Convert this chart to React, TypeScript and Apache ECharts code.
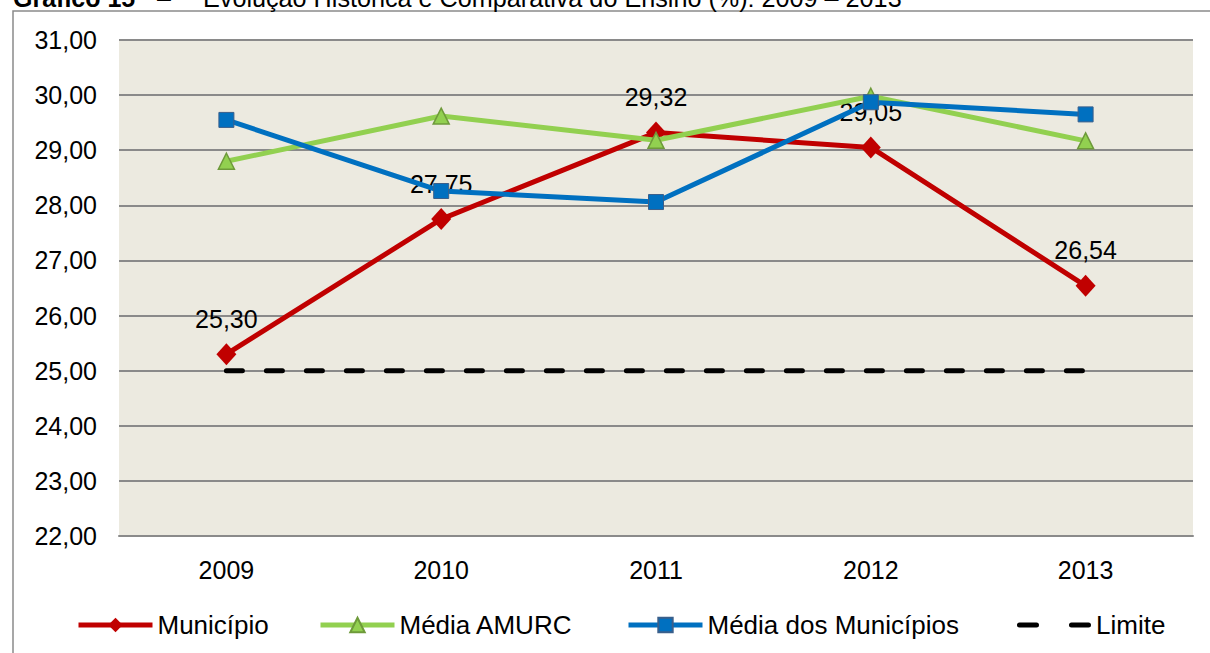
import React, { useEffect, useRef } from "react";
import * as echarts from "echarts";

const categories = ["2009", "2010", "2011", "2012", "2013"];
const municipio = [25.3, 27.75, 29.32, 29.05, 26.54];
const mediaAmurc = [28.8, 29.62, 29.18, 29.98, 29.17];
const mediaMunicipios = [29.55, 28.26, 28.06, 29.87, 29.65];
const limite = [25, 25, 25, 25, 25];
const seriesNames = ["Município", "Média AMURC", "Média dos Municípios", "Limite"];
const yMin = 22;
const yMax = 31;
const yInterval = 1;
const titleBold = "Gráfico 15";
const titleDash = "–";
const titleRest = "Evolução Histórica e Comparativa do Ensino (%): 2009 – 2013";

const FONT = "'Liberation Sans', Arial, sans-serif";
const fmt = (v: number) => v.toFixed(2).replace(".", ",");
const dashIcon =
  "path://M2.5,0h17a2.5,2.5 0 0 1 0,5h-17a2.5,2.5 0 0 1 0,-5z M54.5,0h17a2.5,2.5 0 0 1 0,5h-17a2.5,2.5 0 0 1 0,-5z";

export default function App() {
  const ref = useRef<HTMLDivElement>(null);
  useEffect(() => {
    document.body.style.margin = "0";
    const chart = echarts.init(ref.current!, null, { renderer: "svg" });
    const legendLefts = [76, 318, 626, 1017];
    const legends = seriesNames.map((n, i) => ({
      data: [i === 3 ? { name: n, icon: dashIcon } : { name: n }],
      left: legendLefts[i],
      top: 612,
      padding: 0,
      itemWidth: 74,
      itemHeight: 18,
      symbolKeepAspect: true,
      lineStyle: { width: 5 },
      textStyle: { fontSize: 26, color: "#000", fontFamily: FONT },
    }));
    chart.setOption({
      animation: false,
      backgroundColor: "#ffffff",
      textStyle: { fontFamily: FONT },
      graphic: [
        {
          type: "rect",
          shape: { x: 13, y: 11, width: 1300, height: 800 },
          style: { fill: "none", stroke: "#8a8a8a", lineWidth: 1.5 },
          silent: true,
          z: 0,
        },
        {
          type: "text",
          x: 13,
          y: -2,
          style: { text: titleBold, font: `bold 25px ${FONT}`, fill: "#000", verticalAlign: "middle" },
        },
        {
          type: "text",
          x: 157,
          y: -2,
          style: { text: titleDash, font: `25px ${FONT}`, fill: "#000", verticalAlign: "middle" },
        },
        {
          type: "text",
          x: 203,
          y: -2,
          style: { text: titleRest, font: `25.2px ${FONT}`, fill: "#000", verticalAlign: "middle" },
        },
      ],
      grid: {
        left: 119,
        right: 17,
        top: 40,
        bottom: 117,
        show: true,
        backgroundColor: "#ECEAE0",
        borderWidth: 0,
        containLabel: false,
      },
      legend: legends,
      xAxis: {
        type: "category",
        data: categories,
        boundaryGap: true,
        axisLine: { show: true, lineStyle: { color: "#8a8a8a", width: 2 } },
        axisTick: { show: false },
        axisLabel: { color: "#000", fontSize: 25, fontFamily: FONT, margin: 21 },
      },
      yAxis: {
        type: "value",
        min: yMin,
        max: yMax,
        interval: yInterval,
        axisLine: { show: false },
        axisTick: { show: false },
        axisLabel: { color: "#000", fontSize: 25, fontFamily: FONT, margin: 22, formatter: (v: number) => fmt(v) },
        splitLine: { show: true, lineStyle: { color: "#8a8a8a", width: 2 } },
      },
      series: [
        {
          name: seriesNames[0],
          type: "line",
          data: municipio,
          symbol: "diamond",
          symbolSize: [20, 22],
          lineStyle: { color: "#C00000", width: 5 },
          itemStyle: { color: "#C00000" },
          label: {
            show: true,
            position: "top",
            distance: 12,
            color: "#000",
            fontSize: 25,
            fontFamily: FONT,
            formatter: (p: any) => fmt(p.value),
          },
          z: 3,
        },
        {
          name: seriesNames[1],
          type: "line",
          data: mediaAmurc,
          symbol: "triangle",
          symbolSize: 16,
          lineStyle: { color: "#92D050", width: 5 },
          itemStyle: { color: "#92D050", borderColor: "#6E9A3A", borderWidth: 1.5 },
          z: 4,
        },
        {
          name: seriesNames[2],
          type: "line",
          data: mediaMunicipios,
          symbol: "rect",
          symbolSize: 15,
          lineStyle: { color: "#0070C0", width: 5 },
          itemStyle: { color: "#0070C0", borderColor: "#3A5F8B", borderWidth: 1 },
          z: 5,
        },
        {
          name: seriesNames[3],
          type: "line",
          data: limite,
          symbol: "none",
          lineStyle: { color: "#000", width: 5, type: [16, 24], cap: "round" },
          itemStyle: { color: "#000" },
          z: 2,
        },
      ],
    });
    return () => chart.dispose();
  }, []);
  return <div ref={ref} style={{ position: "absolute", left: 0, top: 0, width: 1210, height: 653 }} />;
}
